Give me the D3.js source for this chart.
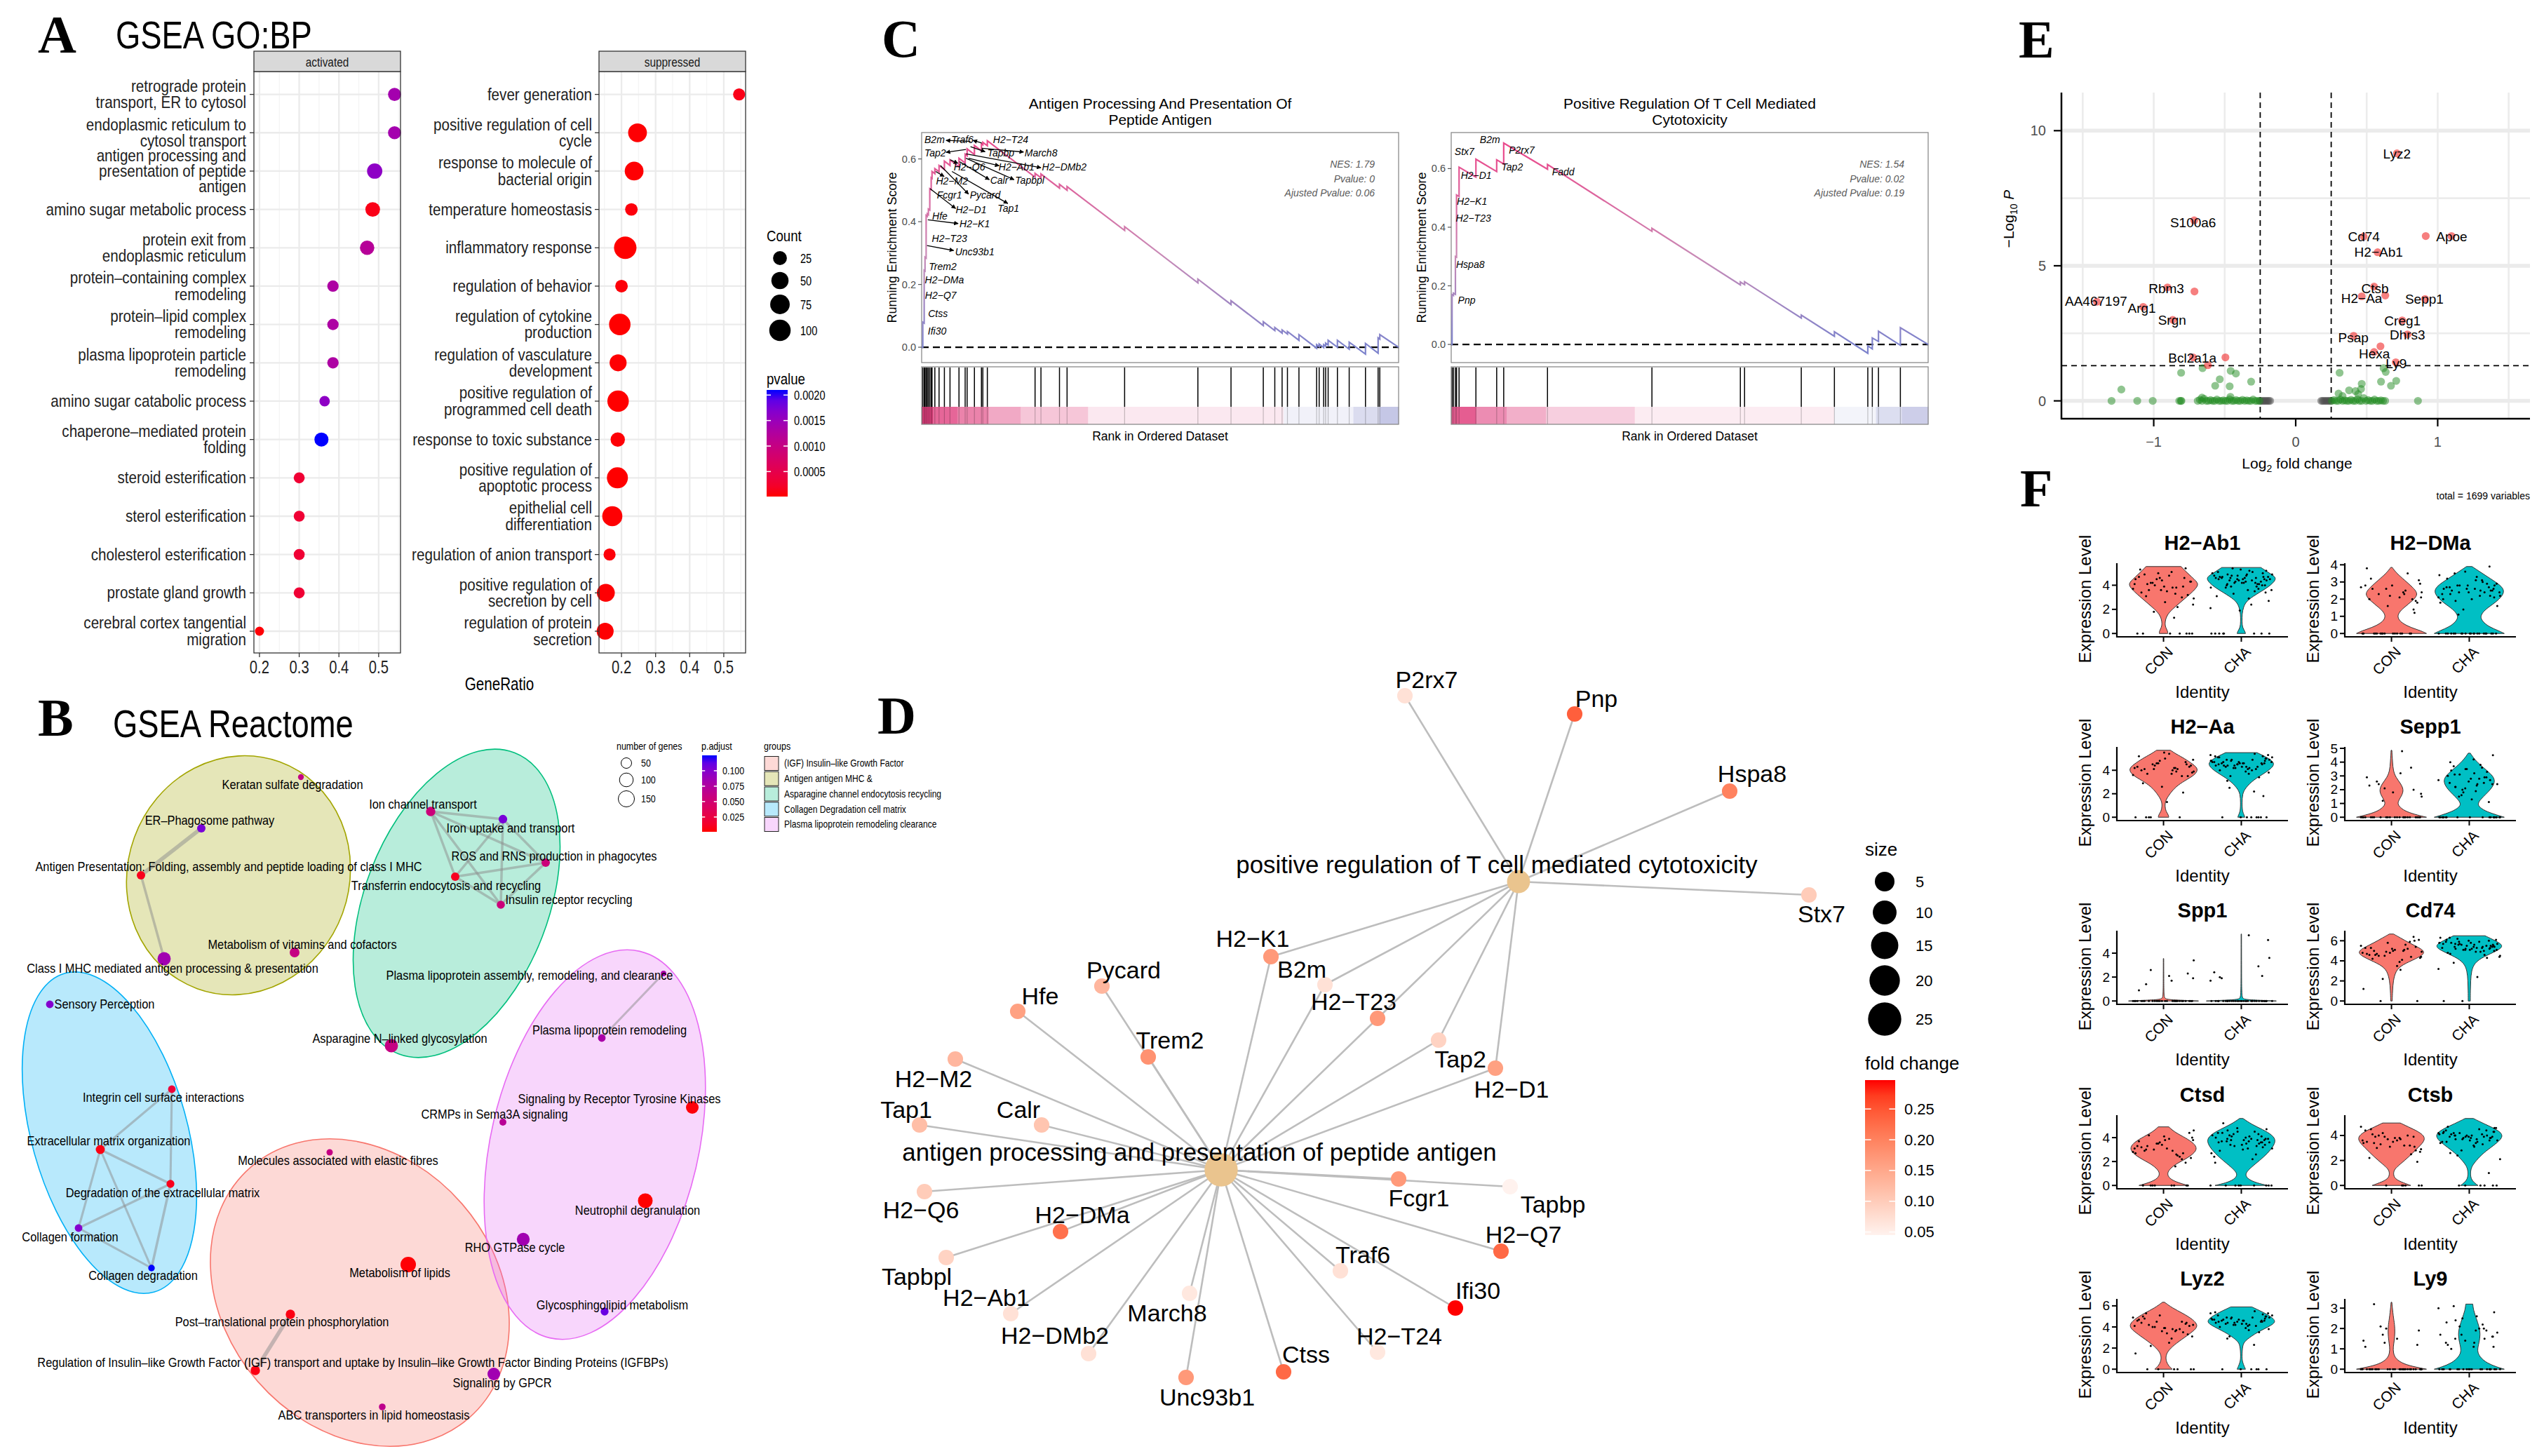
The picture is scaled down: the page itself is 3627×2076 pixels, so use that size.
<!DOCTYPE html>
<html><head><meta charset="utf-8">
<script src="https://cdn.jsdelivr.net/npm/d3@7/dist/d3.min.js"></script>
<style>body{margin:0;background:#fff}</style>
</head><body>
<svg id="fig" width="3627" height="2076"></svg>
<script>
// ================= DATA =================
// Panel A: GSEA GO:BP dot plot
const goActTerms=["retrograde protein\ntransport, ER to cytosol","endoplasmic reticulum to\ncytosol transport","antigen processing and\npresentation of peptide\nantigen","amino sugar metabolic process","protein exit from\nendoplasmic reticulum","protein\u2013containing complex\nremodeling","protein\u2013lipid complex\nremodeling","plasma lipoprotein particle\nremodeling","amino sugar catabolic process","chaperone\u2013mediated protein\nfolding","steroid esterification","sterol esterification","cholesterol esterification","prostate gland growth","cerebral cortex tangential\nmigration"];
const goActRatio=[0.54,0.54,0.49,0.485,0.471,0.385,0.385,0.385,0.364,0.356,0.30,0.30,0.30,0.30,0.20];
const goActCount=[21,21,34,30,28,15,15,15,13,26,14,14,14,14,12];
const goActP=[0.0014,0.0014,0.0016,0.0001,0.0012,0.0013,0.0013,0.0013,0.0016,0.0021,0.0003,0.0003,0.0003,0.0003,0.00003];
const goSupTerms=["fever generation","positive regulation of cell\ncycle","response to molecule of\nbacterial origin","temperature homeostasis","inflammatory response","regulation of behavior","regulation of cytokine\nproduction","regulation of vasculature\ndevelopment","positive regulation of\nprogrammed cell death","response to toxic substance","positive regulation of\napoptotic process","epithelial cell\ndifferentiation","regulation of anion transport","positive regulation of\nsecretion by cell","regulation of protein\nsecretion"];
const goSupRatio=[0.545,0.247,0.237,0.229,0.211,0.200,0.195,0.190,0.190,0.189,0.188,0.173,0.165,0.154,0.152];
const goSupCount=[17,66,66,19,115,19,100,48,100,28,94,82,17,57,48];
const goSupP=[0.0001,0.00002,0.00002,0.00005,0.00001,0.00004,0.00001,0.00002,0.00001,0.00003,0.00001,0.00002,0.00004,0.00002,0.00002];
const goTicks=[0.2,0.3,0.4,0.5];
const goCountLegend=[25,50,75,100];
const goPLegend=[0.0005,0.0010,0.0015,0.0020];

// Panel B: Reactome enrichment map (layout units)
const rxNames=["Keratan sulfate degradation","ER\u2013Phagosome pathway","Antigen Presentation: Folding, assembly and peptide loading of class I MHC","Metabolism of vitamins and cofactors","Class I MHC mediated antigen processing & presentation","Sensory Perception","Integrin cell surface interactions","Extracellular matrix organization","Degradation of the extracellular matrix","Collagen formation","Collagen degradation","Molecules associated with elastic fibres","Metabolism of lipids","Post\u2013translational protein phosphorylation","Regulation of Insulin\u2013like Growth Factor (IGF) transport and uptake by Insulin\u2013like Growth Factor Binding Proteins (IGFBPs)","ABC transporters in lipid homeostasis","Ion channel transport","Iron uptake and transport","ROS and RNS production in phagocytes","Transferrin endocytosis and recycling","Insulin receptor recycling","Plasma lipoprotein assembly, remodeling, and clearance","Asparagine N\u2013linked glycosylation","Plasma lipoprotein remodeling","Signaling by Receptor Tyrosine Kinases","CRMPs in Sema3A signaling","Neutrophil degranulation","RHO GTPase cycle","Glycosphingolipid metabolism","Signaling by GPCR"];
const rxGenes=[13,28,28,42,90,22,22,34,24,22,16,15,134,37,37,17,37,30,28,28,26,12,90,22,80,18,119,85,24,80];
const rxPadj=[0.06,0.105,0.008,0.06,0.085,0.1,0.02,0.005,0.008,0.1,0.125,0.06,0.002,0.005,0.005,0.065,0.055,0.105,0.055,0.01,0.055,0.08,0.06,0.08,0.003,0.07,0.001,0.085,0.11,0.085];
const rxNodeXY=[[419,118],[277,191],[191,258],[410,368],[224,377],[61,442],[235,563],[133,649],[233,698],[102,761],[206,818],[460,653],[572,813],[404,884],[354,964],[535,1016],[604,167],[707,178],[768,240],[639,260],[704,300],[936,398],[548,501],[848,490],[977,589],[707,610],[910,722],[736,777],[852,880],[694,969]];
const rxLabelXY=[[407,129],[289,180],[316,246],[421,357],[236,391],[139,442],[223,575],[145,637],[222,711],[90,774],[194,829],[472,665],[560,825],[392,895],[493,953],[523,1028],[593,157],[718,191],[780,231],[626,273],[801,293],[745,401],[560,491],[859,479],[873,577],[695,599],[899,736],[724,789],[863,871],[706,982]];
const rxEdges=[[1,2,1.0],[2,4,0.5],[16,17,0.5],[16,18,0.5],[16,19,0.5],[16,20,0.5],[17,18,0.5],[17,19,0.5],[17,20,0.5],[18,19,0.5],[18,20,0.5],[19,20,0.5],[6,7,0.4],[6,8,0.4],[7,8,0.5],[7,9,0.4],[7,10,0.4],[8,9,0.4],[8,10,0.5],[9,10,0.4],[13,14,1.0],[21,23,0.4]];
const rxGroups=["(IGF) Insulin\u2013like Growth Factor","Antigen antigen MHC &","Asparagine channel endocytosis recycling","Collagen Degradation cell matrix","Plasma lipoprotein remodeling clearance"];
const rxGroupEllipse=[[503,853,237,193,49],[330,258,172,158,-70],[641,298,230,131,-69],[146,625,236,111,74.4],[838,642,283,148,-76.9]];
const rxGeneLegend=[50,100,150];
const rxPLegend=[0.025,0.050,0.075,0.100];

// Panel C: GSEA running enrichment score
const gseaN=1699;
const gseaHitsA=[4,9,12,16,20,24,29,34,37,47,62,81,101,133,155,162,188,213,218,234,404,425,491,518,723,984,1102,1217,1258,1284,1303,1344,1407,1416,1432,1439,1448,1481,1523,1581,1626,1632];
const gseaCurveA=[[0,0],[4,0],[4,0.08],[9,0.077],[9,0.245],[12,0.243],[12,0.287],[16,0.284],[16,0.42],[20,0.417],[20,0.425],[24,0.422],[24,0.44],[29,0.437],[29,0.505],[34,0.502],[34,0.54],[37,0.538],[37,0.56],[47,0.553],[47,0.569],[62,0.559],[62,0.579],[81,0.566],[81,0.593],[101,0.579],[101,0.597],[133,0.575],[133,0.602],[155,0.587],[155,0.615],[162,0.61],[162,0.632],[188,0.614],[188,0.643],[213,0.626],[213,0.648],[218,0.645],[218,0.653],[234,0.642],[234,0.658],[404,0.542],[404,0.554],[425,0.54],[425,0.552],[491,0.507],[491,0.519],[518,0.5],[518,0.512],[723,0.372],[723,0.384],[984,0.205],[984,0.217],[1102,0.136],[1102,0.148],[1217,0.069],[1217,0.081],[1258,0.053],[1258,0.063],[1284,0.045],[1284,0.055],[1303,0.042],[1303,0.05],[1344,0.022],[1344,0.04],[1407,-0.003],[1407,0.008],[1416,0.002],[1416,0.01],[1432,-0.001],[1432,0.008],[1439,0.003],[1439,0.013],[1448,0.007],[1448,0.022],[1481,0.0],[1481,0.022],[1523,-0.006],[1523,0.016],[1581,-0.022],[1581,0.012],[1626,-0.019],[1626,0.03],[1632,0.026],[1632,0.04],[1699,0.0]];
const gseaBandA=[[0,40,1.0],[40,127,0.8],[127,239,0.65],[239,353,0.45],[353,593,0.3],[593,1289,0.12],[1289,1538,-0.1],[1538,1632,-0.25],[1632,1699,-0.4]];
const gseaGenesA=["B2m","Traf6","H2\u2212T24","Tap2","Tapbp","March8","H2\u2212Q6","H2\u2212Ab1","H2\u2212DMb2","H2\u2212M2","Calr","Tapbpl","Fcgr1","Pycard","H2\u2212D1","Tap1","Hfe","H2\u2212K1","H2\u2212T23","Unc93b1","Trem2","H2\u2212DMa","H2\u2212Q7","Ctss","Ifi30"];
const gseaGeneRankA=[46,145,317,48,282,425,170,338,508,108,276,385,99,226,176,309,65,189,99,189,75,81,68,58,55];
const gseaGeneEsA=[0.661,0.661,0.661,0.619,0.619,0.619,0.574,0.574,0.574,0.529,0.531,0.531,0.486,0.486,0.439,0.442,0.419,0.394,0.347,0.305,0.257,0.215,0.165,0.108,0.051];
const gseaArrowsA=[[174,0.656,87,0.659],[214,0.651,183,0.659],[174,0.639,226,0.623],[214,0.634,363,0.622],[158,0.63,87,0.621],[102,0.597,129,0.586],[167,0.602,276,0.578],[158,0.616,425,0.572],[135,0.591,241,0.534],[158,0.602,329,0.534],[50,0.56,80,0.544],[67,0.579,167,0.488],[108,0.56,307,0.458],[30,0.505,121,0.442],[22,0.406,130,0.394],[19,0.324,114,0.308]];
const gseaStatsA=["NES: 1.79","Pvalue: 0","Ajusted Pvalue: 0.06"];
const gseaHitsB=[3,8,15,19,28,88,162,187,343,715,1030,1045,1247,1365,1484,1500,1522,1600];
const gseaCurveB=[[0,0],[3,0],[3,0.17],[8,0.167],[8,0.175],[15,0.171],[15,0.3],[19,0.298],[19,0.51],[28,0.505],[28,0.605],[88,0.571],[88,0.632],[162,0.59],[162,0.63],[187,0.616],[187,0.687],[343,0.598],[343,0.614],[715,0.386],[715,0.396],[1030,0.203],[1030,0.213],[1045,0.204],[1045,0.214],[1247,0.09],[1247,0.1],[1365,0.028],[1365,0.043],[1484,-0.03],[1484,-0.005],[1500,-0.015],[1500,0.022],[1522,0.01],[1522,0.045],[1600,-0.003],[1600,0.057],[1699,0.0]];
const gseaBandB=[[0,89,0.85],[89,198,0.6],[198,338,0.42],[338,654,0.25],[654,1364,0.1],[1364,1513,-0.08],[1513,1606,-0.24],[1606,1699,-0.35]];
const gseaGenesB=["B2m","Stx7","P2rx7","Tap2","Fadd","H2\u2212D1","H2\u2212K1","H2\u2212T23","Hspa8","Pnp"];
const gseaGeneRankB=[138,47,251,217,399,89,74,79,68,55];
const gseaGeneEsB=[0.698,0.659,0.662,0.605,0.588,0.576,0.489,0.43,0.273,0.152];
const gseaStatsB=["NES: 1.54","Pvalue: 0.02","Ajusted Pvalue: 0.19"];
const gseaYTicks=[0.0,0.2,0.4,0.6];

// Panel D: gene-concept network (layout units)
const cnetCats=["positive regulation of T cell mediated cytotoxicity","antigen processing and presentation of peptide antigen"];
const cnetCatSize=[9,25];
const cnetCatXY=[[925,327],[501,738]];
const cnetCatLabelXY=[[894,302],[470,712]];
const cnetGenes=["P2rx7","Pnp","Hspa8","Stx7","H2\u2212K1","B2m","H2\u2212T23","Tap2","H2\u2212D1","Pycard","Hfe","Trem2","H2\u2212M2","Tap1","Calr","H2\u2212Q6","H2\u2212DMa","Tapbpl","H2\u2212Ab1","H2\u2212DMb2","March8","Unc93b1","Ctss","H2\u2212T24","Ifi30","Traf6","H2\u2212Q7","Fcgr1","Tapbp"];
const cnetFC=[0.07,0.24,0.2,0.1,0.17,0.07,0.17,0.09,0.16,0.13,0.16,0.18,0.13,0.12,0.11,0.1,0.22,0.09,0.07,0.07,0.06,0.17,0.23,0.06,0.297,0.07,0.23,0.17,0.045];
const cnetGeneXY=[[763,62],[1005,88],[1226,198],[1339,346],[572,434],[649,474],[724,522],[811,553],[892,593],[331,476],[211,512],[397,577],[122,580],[71,674],[245,674],[78,769],[272,826],[109,863],[201,943],[312,1000],[456,914],[451,1034],[590,1026],[724,998],[835,935],[671,882],[900,854],[754,751],[913,762]];
const cnetGeneLabelXY=[[794,39],[1036,66],[1258,173],[1357,373],[546,408],[616,452],[690,498],[842,580],[915,623],[362,453],[243,490],[428,553],[91,608],[52,652],[212,652],[73,795],[303,802],[67,890],[166,920],[264,974],[424,942],[481,1062],[622,1001],[755,975],[867,910],[703,859],[932,830],[783,778],[974,787]];
const cnetLinks={0:[0,1,2,3,4,5,6,7,8],1:[4,5,6,7,8,9,10,11,12,13,14,15,16,17,18,19,20,21,22,23,24,25,26,27,28]};
const cnetSizeLegend=[5,10,15,20,25];
const cnetFCLegend=[0.05,0.10,0.15,0.20,0.25];

// Panel E: volcano
const volSigX=[-1.401,-1.074,-0.903,-0.713,-0.866,-0.715,-0.723,-0.619,-0.495,0.713,0.478,0.916,1.097,0.577,0.552,0.465,0.631,0.911,0.75,0.787,0.408,0.597,0.552,0.705];
const volSigY=[3.67,3.48,4.2,4.05,3.0,6.68,1.61,1.32,1.61,9.16,6.08,6.1,6.1,5.5,4.23,3.87,3.9,3.77,2.98,2.46,2.41,2.02,1.81,1.43];
const volGreenX=[-1.297,-1.228,-1.116,-1.007,-0.809,-0.807,-0.656,-0.567,-0.535,-0.465,-0.458,-0.421,-0.314,-0.82,-0.805,-0.69,-0.675,-0.66,-0.645,-0.63,-0.615,-0.6,-0.585,-0.57,-0.555,-0.54,-0.525,-0.51,-0.495,-0.48,-0.465,-0.45,-0.435,-0.42,-0.405,-0.39,-0.375,-0.36,-0.345,-0.33,-0.315,-0.3,-0.285,-0.27,-0.255,-0.66,-0.46,0.309,0.302,0.376,0.421,0.465,0.46,0.601,0.619,0.634,0.671,0.708,0.861,0.255,0.27,0.285,0.3,0.315,0.33,0.345,0.36,0.375,0.39,0.405,0.42,0.435,0.45,0.465,0.48,0.495,0.51,0.525,0.54,0.555,0.57,0.585,0.6,0.615,0.63,0.44,0.33];
const volGreenY=[0,0.42,0,0,0,1.04,1.21,0.56,0.8,0.54,1.11,1.01,0.71,0,0,0,0.04,0,0.08,0,0,0.03,0,0,0.05,0,0,0.02,0,0,0.06,0,0,0.03,0,0,0.04,0,0.02,0,0,0.05,0,0,0,0.12,0.15,1.04,0.27,0.39,0.36,0.63,0.44,0.71,1.21,1.07,0.56,0.74,0,0,0.03,0,0,0.05,0,0.02,0,0,0.04,0,0,0.06,0,0,0.1,0,0.03,0,0,0.05,0,0,0.02,0,0,0.25,0.18];
const volGrayX=[-0.25,-0.24,-0.23,-0.22,-0.21,-0.2,-0.19,-0.18,0.18,0.19,0.2,0.21,0.22,0.23,0.24,0.248];
const volGrayY=[0,0,0,0,0,0,0,0,0,0,0,0,0,0,0,0];
const volLabels=["Lyz2","S100a6","Cd74","Apoe","H2\u2212Ab1","Rbm3","Ctsb","H2\u2212Aa","Sepp1","AA467197","Arg1","Srgn","Creg1","Dhrs3","Psap","Hexa","Bcl2a1a","Ly9"];
const volLabelX=[0.713,-0.723,0.48,1.099,0.584,-0.911,0.559,0.465,0.906,-1.406,-1.084,-0.871,0.752,0.787,0.406,0.554,-0.728,0.708];
const volLabelY=[9.13,6.6,6.08,6.08,5.5,4.15,4.15,3.78,3.76,3.68,3.42,2.98,2.95,2.43,2.35,1.73,1.58,1.37];
const volXTicks=[-1,0,1], volYTicks=[0,5,10];
const volFC=0.25, volP=1.301;

// Panel F: violin plots
const vlnGenes=["H2\u2212Ab1","H2\u2212DMa","H2\u2212Aa","Sepp1","Spp1","Cd74","Ctsd","Ctsb","Lyz2","Ly9"];
const vlnGroups=["CON","CHA"];
const vlnTicks=[[0,2,4],[0,1,2,3,4],[0,2,4],[0,1,2,3,4,5],[0,2,4],[0,2,4,6],[0,2,4],[0,2,4],[0,2,4,6],[0,1,2,3]];
const vlnConShape=[
 [[0,0.12],[0.2,0.12],[0.5,0.06],[0.8,0.04],[1.2,0.06],[1.6,0.12],[2.0,0.25],[2.5,0.45],[3.0,0.65],[3.5,0.85],[4.0,1.0],[4.3,0.95],[4.7,0.8],[5.1,0.65],[5.55,0.5]],
 [[0,1.0],[0.15,0.85],[0.35,0.55],[0.6,0.3],[0.9,0.17],[1.2,0.2],[1.5,0.35],[1.9,0.6],[2.3,0.78],[2.7,0.6],[3.1,0.38],[3.5,0.15],[3.85,0.02]],
 [[0,0.15],[0.2,0.14],[0.5,0.07],[0.9,0.04],[1.4,0.05],[2.0,0.18],[2.6,0.35],[3.1,0.6],[3.6,0.9],[4.1,1.0],[4.5,0.85],[5.0,0.6],[5.4,0.35],[5.7,0.2]],
 [[0,1.0],[0.15,0.75],[0.4,0.42],[0.7,0.25],[1.0,0.16],[1.4,0.25],[1.9,0.36],[2.4,0.28],[2.9,0.12],[3.4,0.05],[4.0,0.03],[4.5,0.02],[4.86,0.01]],
 [[0,1.0],[0.05,0.6],[0.12,0.06],[0.3,0.012],[1.5,0.008],[3.55,0.006]],
 [[0,0.02],[1,0.03],[2,0.05],[3,0.12],[3.6,0.3],[4.2,0.7],[4.8,1.0],[5.3,0.8],[5.8,0.5],[6.3,0.25],[6.67,0.06]],
 [[0,0.7],[0.2,0.45],[0.5,0.2],[0.9,0.1],[1.3,0.15],[1.8,0.35],[2.3,0.7],[3.0,1.0],[3.6,0.85],[4.1,0.55],[4.5,0.3],[4.9,0.15]],
 [[0,0.55],[0.2,0.35],[0.5,0.1],[0.9,0.05],[1.3,0.08],[1.7,0.25],[2.3,0.5],[3.0,0.75],[3.7,1.0],[4.2,0.85],[4.6,0.55],[5.0,0.25]],
 [[0,0.25],[0.3,0.15],[0.7,0.08],[1.2,0.06],[1.7,0.12],[2.3,0.3],[3.0,0.6],[3.6,0.85],[4.1,1.0],[4.7,0.85],[5.3,0.55],[5.8,0.25],[6.34,0.03]],
 [[0,1.0],[0.1,0.7],[0.25,0.35],[0.5,0.12],[0.8,0.05],[1.1,0.05],[1.4,0.08],[1.8,0.1],[2.2,0.09],[2.6,0.05],[3.29,0.01]]
];
const vlnChaShape=[
 [[0,0.12],[0.2,0.1],[0.5,0.03],[1.0,0.02],[1.6,0.02],[2.2,0.06],[2.7,0.15],[3.2,0.4],[3.8,0.75],[4.3,0.95],[4.66,1.0],[5.0,0.8],[5.47,0.56]],
 [[0,1.0],[0.15,0.85],[0.4,0.55],[0.7,0.38],[1.0,0.3],[1.4,0.45],[1.8,0.75],[2.2,0.95],[2.5,1.0],[2.8,0.9],[3.2,0.6],[3.6,0.3],[3.9,0.08]],
 [[0,0.1],[0.2,0.08],[0.5,0.03],[1.2,0.02],[2.0,0.03],[2.5,0.12],[3.2,0.35],[3.8,0.7],[4.5,1.0],[5.0,0.8],[5.5,0.45]],
 [[0,1.0],[0.15,0.8],[0.4,0.5],[0.7,0.3],[1.0,0.22],[1.5,0.4],[2.1,0.65],[2.7,0.76],[3.2,0.6],[3.7,0.35],[4.2,0.15],[4.65,0.03]],
 [[0,1.0],[0.05,0.6],[0.12,0.06],[0.3,0.012],[2.0,0.008],[5.6,0.006]],
 [[0,0.03],[1,0.03],[2,0.04],[3,0.06],[3.8,0.15],[4.4,0.4],[5.0,0.8],[5.5,1.0],[6.0,0.75],[6.5,0.45]],
 [[0,0.75],[0.2,0.45],[0.5,0.2],[0.9,0.1],[1.3,0.2],[1.8,0.4],[2.4,0.65],[3.0,0.85],[3.7,1.0],[4.2,0.9],[4.7,0.6],[5.1,0.3],[5.6,0.05]],
 [[0,0.25],[0.2,0.15],[0.5,0.05],[1.0,0.03],[1.5,0.06],[2.0,0.2],[2.6,0.4],[3.2,0.7],[3.9,1.0],[4.4,0.85],[4.9,0.45],[5.36,0.12]],
 [[0,0.12],[0.3,0.08],[0.8,0.02],[1.5,0.02],[2.4,0.04],[2.8,0.15],[3.5,0.45],[4.2,0.9],[4.6,1.0],[5.2,0.75],[5.9,0.3]],
 [[0,1.0],[0.1,0.8],[0.3,0.5],[0.6,0.3],[0.9,0.22],[1.3,0.28],[1.7,0.32],[2.1,0.28],[2.5,0.2],[2.9,0.12],[3.2,0.1]]
];
const vlnConPts=[
 [4.1,3.8,4.5,3.2,4.9,2.6,4.3,3.6,5.1,0,3.9,4.6,2.9,4.2,0,3.4,4.8,3.7,1.3,4.4,5.4,3.1,0,4.0,2.2,4.7,3.5,0,4.2,3.0,5.0,3.8,0,2.4,4.5,3.3,4.1,0,3.9,1.8,4.6,5.3,0,3.6,4.3],
 [0,2.3,0,1.9,2.6,0,3.1,0,2.1,2.8,0,1.6,2.4,0,3.5,2.0,0,2.7,0,2.2,1.4,0,2.9,0,2.5,3.8,0,1.8,2.3,0,2.6,0,3.2,2.1,0,2.4,0,1.2,2.8,0,2.0],
 [4.2,3.9,4.6,3.5,4.1,5.0,4.4,0,3.7,4.3,2.1,4.8,3.9,4.5,0,4.0,5.4,3.6,4.2,2.6,4.7,0,3.8,4.4,4.1,5.2,1.3,4.3,0,3.5,4.6,4.0,2.9,4.9,0,4.2,3.7,4.5,5.5,4.1],
 [0,0,2.1,0,0,1.8,0,2.6,0,0,3.6,0,1.5,0,0,2.3,0,0,4.8,0,2.0,0,0,1.2,0,2.9,0,0,2.4,0,0,3.2,0,1.7,0,0],
 [0,0,0,2.3,0,0,0,0,1.7,0,0,0,3.4,0,0,0,2.1,0,0,0,0,1.4,0,0,0,0.9,0,0,2.6,0,0,0,0,1.9,0,0],
 [4.8,5.1,4.5,5.4,4.2,5.0,6.1,4.7,3.9,5.3,4.4,5.8,4.9,0,5.2,4.6,3.5,5.5,4.1,4.8,6.4,5.0,4.3,2.2,5.6,4.7,5.1,0,4.5,5.9,4.9,3.1,5.3,4.4,1.2,5.0,4.6,6.0,5.2],
 [3.1,2.6,3.5,0,2.9,3.8,2.3,4.2,0,3.3,2.7,3.6,4.6,0,2.4,3.2,3.9,2.8,0,3.4,1.9,3.0,4.0,0,2.5,3.7,3.1,4.4,0,2.2,3.5,2.9,0,3.8,2.7,1.6,3.3,0,4.1,3.0],
 [3.6,3.2,3.9,2.8,4.1,3.5,0,3.0,3.8,4.4,2.5,3.7,0,3.3,4.0,2.2,3.6,4.7,0,3.1,3.9,3.4,2.7,4.2,0,3.5,3.8,1.9,4.0,3.2,0,3.7,4.5,2.9,3.4,0,3.9,3.1],
 [4.1,3.7,4.5,3.3,4.8,3.9,0,4.2,2.9,4.6,3.5,5.1,0,4.0,3.8,4.4,2.5,4.9,0,3.6,4.3,5.3,3.1,4.0,0,4.7,3.4,4.1,2.2,4.5,0,3.8,5.0,4.2,1.5,3.6,0,4.4,3.9],
 [0,0,1.3,0,0,0,1.9,0,0,1.1,0,0,0,2.1,0,0,1.5,0,0,0,0,3.2,0,1.7,0,0,0,1.2,0,0,2.0,0,0,0,1.4,0,0]
];
const vlnChaPts=[
 [4.5,4.2,4.8,4.0,5.1,3.6,4.4,4.7,4.9,3.9,0,4.3,4.6,5.2,3.3,4.1,4.8,2.4,4.5,5.0,3.8,0,4.4,4.2,4.7,3.5,5.3,4.0,4.6,2.9,0,4.9,4.3,3.7,4.5,5.1,4.1,0,2.1,4.8,4.4,3.9,4.6,5.0,0,4.2,3.4,4.7,4.5,2.7,4.0,5.2,0,4.3,4.8,3.6,4.6,4.1,0,4.9,3.8,4.4,1.9,4.7,0,4.5,5.4,4.2,3.1,4.6],
 [2.5,0,2.8,2.2,0,3.1,2.6,0,1.9,2.4,3.4,0,2.7,2.1,0,2.9,2.3,0,3.6,2.5,0,1.6,2.8,2.0,0,3.0,2.4,0,2.6,3.3,0,2.2,1.4,0,2.7,2.5,0,3.9,2.1,0,2.8,2.4,0,1.8,3.1,0,2.6,2.3,0,2.9,3.5,0,2.0,2.7,0,2.4,1.1,0,3.2,2.6,0,2.2,2.8,0,2.5],
 [4.6,4.3,4.9,4.5,5.1,4.1,4.7,5.3,4.4,0,4.8,3.9,4.6,5.0,4.2,3.4,4.7,0,4.5,5.2,4.3,4.9,2.5,4.6,4.0,5.4,0,4.8,4.4,3.7,4.7,5.1,4.2,0,4.5,4.9,3.1,4.6,5.3,4.3,0,4.8,4.1,4.7,2.2,4.4,5.0,0,4.6,3.8,4.9,4.2,5.2,0,4.5,4.7,3.5,4.3,5.1,0,4.8,4.0,4.6,1.8,4.4],
 [2.4,0,3.1,2.7,0,1.9,3.5,0,2.2,2.9,0,4.2,2.5,0,1.6,3.3,0,2.8,2.1,0,3.7,2.4,0,1.3,3.0,0,2.6,4.5,0,2.3,3.4,0,1.8,2.9,0,3.8,2.2,0,2.7,3.2,0,1.5,2.5,0,3.6,2.0,0,4.0,2.8,0,3.1,2.4,0,1.1,3.5,0],
 [0,0,0,2.1,0,0,0,5.1,0,0,0,0,1.9,0,0,0,2.4,0,0,0,0,3.6,0,0,2.0,0,0,0,0,5.5,0,0,0,2.9,0,0,0,0,1.7,0,0],
 [5.4,5.1,5.7,5.3,5.9,4.9,5.5,6.1,5.2,4.6,5.8,5.4,6.3,5.0,5.6,4.3,5.3,5.9,5.1,5.5,3.8,5.7,6.2,5.2,4.8,5.4,6.0,5.6,0,5.3,5.8,4.5,5.1,5.5,6.1,4.9,5.7,5.2,3.2,5.6,5.4,5.9,5.0,6.3,5.3,0,5.5,4.7,5.8,5.1,5.4,2.4,5.7,6.0,5.2,4.4,5.6],
 [3.8,3.4,4.1,3.6,4.4,3.1,0,3.9,4.6,3.3,2.7,4.0,3.7,0,4.3,3.5,2.4,3.9,4.8,3.2,0,3.6,4.2,3.8,2.9,4.5,0,3.4,4.0,3.7,5.2,3.1,0,4.3,3.6,2.2,3.9,4.1,0,3.5,4.7,3.8,2.6,4.2,0,3.3,3.9,4.4,3.0,0,3.7,4.1,1.9,3.6,4.5,0,3.4,3.8],
 [3.9,3.6,4.2,3.8,4.4,3.4,4.0,4.6,3.7,0,4.1,3.2,3.9,4.3,2.8,4.0,3.5,4.5,0,3.8,4.2,3.6,2.4,4.0,4.7,3.3,3.9,0,4.3,3.7,4.1,2.1,3.8,4.4,3.5,0,4.0,3.6,4.2,3.1,4.6,0,3.9,3.4,4.1,3.7,4.3,2.6,3.8,0,4.0,3.5,4.2,1.0,3.9],
 [4.6,4.3,4.9,4.5,5.1,4.1,4.7,5.3,4.4,0,4.8,3.9,4.6,5.0,4.2,3.5,4.7,0,4.5,5.2,4.3,4.9,3.1,4.6,4.0,5.5,0,4.8,4.4,3.7,4.7,5.1,4.2,0,4.5,4.9,2.9,4.6,5.3,4.3,0,4.8,4.1,4.7,2.3,4.4,5.0,0,4.6,3.8,4.9,4.2,5.4,4.5],
 [1.6,0,2.1,0,1.3,1.9,0,0,2.4,1.5,0,1.1,0,2.8,1.7,0,0,2.0,1.4,0,3.1,1.8,0,0,1.2,2.2,0,1.6,0,2.6,1.0,0,0,1.9,2.3,0,1.5,0,3.0,1.3,0,0,2.0,1.7,0,2.5,1.1,0]
];
const jitterPattern=[-0.93,0.41,-0.22,0.78,-0.61,0.05,0.88,-0.47,0.26,-0.84,0.63,-0.12,0.97,-0.35,0.52,-0.71,0.18,-0.98,0.34,-0.05,0.71,-0.56,0.92,-0.28,0.45,-0.79,0.11,0.83,-0.41,0.59,-0.17,0.29,-0.66,0.95,-0.9,0.38,-0.52,0.74,0.02,-0.31,0.67,-0.75,0.21,-0.08,0.86,-0.44,0.49,-0.96,0.14,-0.63,0.8,-0.25,0.57,-0.87,0.32,-0.13,0.69,-0.5,0.9,-0.38,0.08,-0.69,0.43,-0.02,0.76,-0.82,0.24,-0.58,0.99,-0.19,0.55,-0.73,0.36,-0.45,0.65,-0.99,0.16,0.81,-0.33,0.47];

// ================= DRAWING =================
const W=3627,H=2076;
const SANS="'Liberation Sans', Arial, Helvetica, sans-serif";
const SERIF="'Liberation Serif','Times New Roman',serif";
const svg=d3.select("#fig");
svg.append("rect").attr("width",W).attr("height",H).attr("fill","#fff");
const defs=svg.append("defs");

function T(g,x,y,s,o={}){
  let tr=`translate(${x},${y})`;
  if(o.rot) tr+=` rotate(${o.rot})`;
  if(o.sx) tr+=` scale(${o.sx},1)`;
  const t=g.append("text").attr("transform",tr)
    .attr("font-family",o.family||SANS).attr("font-size",o.size||14)
    .attr("text-anchor",o.anchor||"start")
    .attr("dominant-baseline",o.base||"central")
    .attr("fill",o.fill||"#000");
  if(o.weight) t.attr("font-weight",o.weight);
  if(o.italic) t.attr("font-style","italic");
  t.text(s);
  return t;
}
function line(g,x1,y1,x2,y2,stroke,w,extra){
  const l=g.append("line").attr("x1",x1).attr("y1",y1).attr("x2",x2).attr("y2",y2).attr("stroke",stroke).attr("stroke-width",w);
  if(extra) extra(l);
  return l;
}
function vGrad(id,scale,dom){
  const gr=defs.append("linearGradient").attr("id",id).attr("x1",0).attr("x2",0).attr("y1",1).attr("y2",0);
  d3.range(0,11).forEach(i=>{const t=i/10;gr.append("stop").attr("offset",t).attr("stop-color",scale(dom[0]+t*(dom[1]-dom[0])));});
}
function colorbar(g,x,y0,y1,w,id,scale,dom,ticks,fmt,labX,fs,sx){
  vGrad(id,scale,dom);
  g.append("rect").attr("x",x).attr("y",y0).attr("width",w).attr("height",y1-y0).attr("fill",`url(#${id})`);
  const ys=d3.scaleLinear().domain(dom).range([y1,y0]);
  ticks.forEach(v=>{
    const yy=ys(v);
    line(g,x,yy,x+w*0.2,yy,"#fff",1.5);
    line(g,x+w*0.8,yy,x+w,yy,"#fff",1.5);
    T(g,labX,yy,fmt(v),{size:fs,sx:sx});
  });
}

// panel letters
[["A",54,75],["B",54,1049],["C",1257,81],["D",1251,1046],["E",2878,82],["F",2880,722]].forEach(d=>{
  T(svg,d[1],d[2],d[0],{size:76,family:SERIF,weight:"bold",base:"alphabetic"});
});

// ---------- Panel A ----------
(function(){
  const g=svg.append("g");
  const SX=0.81;
  T(g,165,69,"GSEA GO:BP",{size:56,sx:SX,base:"alphabetic"});
  const allC=goActCount.concat(goSupCount), allP=goActP.concat(goSupP);
  const cMin=d3.min(allC), cMax=d3.max(allC);
  const pMin=d3.min(allP), pMax=d3.max(allP);
  const rLin=d3.scaleLinear().domain([0,1]).range([6.5,16]);
  const rA=c=>rLin(Math.sqrt(Math.max(0,(c-cMin)/(cMax-cMin))));
  const colA=d3.scaleLinear().domain([pMin,pMax]).range(["#ff0000","#0000ff"]).interpolate(d3.interpolateLab);
  const rowY=d3.scalePoint().domain(d3.range(15)).range([134.6,900]);
  function facet(x0,x1,dom,terms,ratio,cnt,pv,strip,labelX){
    const xs=d3.scaleLinear().domain(dom).range([x0,x1]);
    g.append("rect").attr("x",x0).attr("y",102).attr("width",x1-x0).attr("height",829).attr("fill","#fff");
    [0.15,0.25,0.35,0.45,0.55].filter(v=>v>dom[0]&&v<dom[1]).forEach(v=>line(g,xs(v),102,xs(v),931,"#f4f4f4",1.3));
    goTicks.forEach(v=>line(g,xs(v),102,xs(v),931,"#ebebeb",2.3));
    d3.range(15).forEach(i=>line(g,x0,rowY(i),x1,rowY(i),"#ebebeb",2.3));
    const idx=d3.range(15);
    g.selectAll(null).data(idx).enter().append("circle")
      .attr("cx",i=>xs(ratio[i])).attr("cy",i=>rowY(i)).attr("r",i=>rA(cnt[i])).attr("fill",i=>colA(pv[i]));
    g.append("rect").attr("x",x0).attr("y",102).attr("width",x1-x0).attr("height",829).attr("fill","none").attr("stroke","#333").attr("stroke-width",1.3);
    g.append("rect").attr("x",x0).attr("y",73).attr("width",x1-x0).attr("height",29).attr("fill","#d9d9d9").attr("stroke","#333").attr("stroke-width",1.3);
    T(g,(x0+x1)/2,88,strip,{size:19,sx:SX,anchor:"middle",fill:"#1a1a1a"});
    goTicks.forEach(v=>{line(g,xs(v),931,xs(v),937,"#333",1.3);T(g,xs(v),951,String(v),{size:25,sx:SX,anchor:"middle",fill:"#222"});});
    idx.forEach(i=>{
      line(g,x0-6,rowY(i),x0,rowY(i),"#333",1.3);
      const ls=terms[i].split("\n");
      const sp=ls.length>2?21.8:23.2;
      ls.forEach((s,k)=>T(g,labelX,rowY(i)+(k-(ls.length-1)/2)*sp,s,{size:24,sx:0.86,anchor:"end",fill:"#222"}));
    });
  }
  facet(362,571,[0.186,0.555],goActTerms,goActRatio,goActCount,goActP,"activated",351);
  facet(854,1063,[0.134,0.564],goSupTerms,goSupRatio,goSupCount,goSupP,"suppressed",844);
  T(g,712,975,"GeneRatio",{size:25.5,sx:SX,anchor:"middle"});
  // legends
  T(g,1093,336,"Count",{size:23,sx:SX});
  const ly=[368,400,434,471];
  goCountLegend.forEach((c,i)=>{
    g.append("circle").attr("cx",1112).attr("cy",ly[i]).attr("r",rA(c)).attr("fill","#000");
    T(g,1141,ly[i],String(c),{size:18,sx:SX});
  });
  T(g,1093,540,"pvalue",{size:23,sx:SX});
  colorbar(g,1093,556,708,30,"gA",colA,[pMin,pMax],goPLegend,v=>v.toFixed(4),1132,18,SX);
})();

// ---------- Panel B ----------
(function(){
  const g=svg.append("g");
  const SX=0.81;
  T(g,161,1051,"GSEA Reactome",{size:56,sx:SX,base:"alphabetic"});
  const bx=d3.scaleLinear().domain([0,1050]).range([10,1060]);
  const by=d3.scaleLinear().domain([0,1080]).range([990,2070]);
  const hues=["#F8766D","#A3A500","#00BF7D","#00B0F6","#E76BF3"];
  rxGroupEllipse.forEach((e,i)=>{
    g.append("ellipse").attr("cx",bx(e[0])).attr("cy",by(e[1])).attr("rx",e[2]).attr("ry",e[3])
      .attr("transform",`rotate(${e[4]},${bx(e[0])},${by(e[1])})`)
      .attr("fill",hues[i]).attr("fill-opacity",0.28).attr("stroke",hues[i]).attr("stroke-width",1.6);
  });
  const gMin=10,gMax=180;
  const rLin=d3.scaleLinear().domain([0,1]).range([2.9,12.4]);
  const rB=n=>rLin(Math.sqrt(Math.max(0,(n-gMin)/(gMax-gMin))));
  const pMin=d3.min(rxPadj), pMax=d3.max(rxPadj);
  const colB=d3.scaleLinear().domain([pMin,pMax]).range(["#ff0000","#0000ff"]).interpolate(d3.interpolateLab);
  rxEdges.forEach(e=>{
    const a=rxNodeXY[e[0]], b=rxNodeXY[e[1]];
    line(g,bx(a[0]),by(a[1]),bx(b[0]),by(b[1]),"#8c8c8c",1.5+4*e[2],l=>l.attr("stroke-opacity",0.5));
  });
  rxNames.forEach((n,i)=>{
    g.append("circle").attr("cx",bx(rxNodeXY[i][0])).attr("cy",by(rxNodeXY[i][1])).attr("r",rB(rxGenes[i])).attr("fill",colB(rxPadj[i]));
  });
  rxNames.forEach((n,i)=>{
    T(g,bx(rxLabelXY[i][0]),by(rxLabelXY[i][1]),n,{size:18,sx:0.91,anchor:"middle"});
  });
  // legends
  T(g,879,1064,"number of genes",{size:14.5,sx:0.86});
  const ly=[1088,1112,1139];
  rxGeneLegend.forEach((n,i)=>{
    g.append("circle").attr("cx",893).attr("cy",ly[i]).attr("r",rB(n)).attr("fill","#fff").attr("stroke","#000").attr("stroke-width",1);
    T(g,914,ly[i],String(n),{size:14.5,sx:0.86});
  });
  T(g,1000,1064,"p.adjust",{size:14.5,sx:0.86});
  colorbar(g,1001,1077,1186,21,"gB",colB,[pMin,pMax],rxPLegend,v=>v.toFixed(3),1030,14.5,0.86);
  T(g,1089,1064,"groups",{size:14.5,sx:0.86});
  rxGroups.forEach((s,i)=>{
    const yy=1088.5+i*21.75;
    g.append("rect").attr("x",1090).attr("y",yy-10).attr("width",20).attr("height",20).attr("fill",hues[i]).attr("fill-opacity",0.28).attr("stroke","#222").attr("stroke-width",1);
    T(g,1118,yy,s,{size:14,sx:0.86});
  });
})();

// ---------- Panel C ----------
function gseaPanel(o){
  const g=svg.append("g");
  const xs=d3.scaleLinear().domain([0,gseaN]).range([o.x0,o.x1]);
  const ys=d3.scaleLinear().domain(o.yDom).range([517,189]);
  const cx=(o.x0+o.x1)/2;
  o.title.forEach((t,i)=>T(g,cx,147+23*i,t,{size:21,anchor:"middle"}));
  g.append("rect").attr("x",o.x0).attr("y",189).attr("width",o.x1-o.x0).attr("height",328).attr("fill","#fff").attr("stroke","#8a8a8a").attr("stroke-width",1.3);
  line(g,o.x0,ys(0),o.x1,ys(0),"#000",2.2,l=>l.attr("stroke-dasharray","10,6"));
  const gr=defs.append("linearGradient").attr("id",o.id).attr("gradientUnits","userSpaceOnUse")
    .attr("x1",0).attr("x2",0).attr("y1",ys(0.66)).attr("y2",ys(0));
  gr.append("stop").attr("offset",0).attr("stop-color","#ea4a8c");
  gr.append("stop").attr("offset",0.55).attr("stop-color","#c98ab6");
  gr.append("stop").attr("offset",1).attr("stop-color","#7d83cc");
  g.append("path").attr("d",d3.line().x(d=>xs(d[0])).y(d=>ys(d[1]))(o.curve))
    .attr("fill","none").attr("stroke",`url(#${o.id})`).attr("stroke-width",2.2);
  gseaYTicks.forEach(v=>{
    line(g,o.x0-5,ys(v),o.x0,ys(v),"#555",1.2);
    T(g,o.x0-8,ys(v),v.toFixed(1),{size:14.5,anchor:"end",fill:"#4d4d4d"});
  });
  T(g,o.x0-42,353,"Running Enrichment Score",{size:18,anchor:"middle",rot:-90});
  o.stats.forEach((s,i)=>T(g,o.statX,234+20.5*i,s,{size:14,anchor:"end",italic:true,fill:"#5a5a5a"}));
  if(o.arrows){
    o.arrows.forEach(a=>line(g,xs(a[0]),ys(a[1]),xs(a[2]),ys(a[3]),"#000",1.3,l=>l.attr("marker-end","url(#arr)")));
  }
  o.genes.forEach((s,i)=>T(g,xs(o.gRank[i]),ys(o.gEs[i]),s,{size:14,anchor:"middle",italic:true}));
  // rug
  g.append("rect").attr("x",o.x0).attr("y",523).attr("width",o.x1-o.x0).attr("height",82).attr("fill","#fff");
  const pos=d3.interpolateRgb("#ffffff","#e0407e"), neg=d3.interpolateRgb("#ffffff","#6f74c0");
  o.band.forEach(b=>{
    g.append("rect").attr("x",xs(b[0])).attr("y",580).attr("width",xs(b[1])-xs(b[0])+0.5).attr("height",25)
      .attr("fill",b[2]>=0?pos(b[2]):neg(-b[2]));
  });
  o.hits.forEach(h=>{
    line(g,xs(h),524,xs(h),580,"#000",1.5);
    line(g,xs(h),580,xs(h),605,"#000",1.2,l=>l.attr("stroke-opacity",0.22));
  });
  g.append("rect").attr("x",o.x0).attr("y",523).attr("width",o.x1-o.x0).attr("height",82).attr("fill","none").attr("stroke","#8a8a8a").attr("stroke-width",1.3);
  T(g,cx,622,"Rank in Ordered Dataset",{size:17.5,anchor:"middle"});
}
defs.append("marker").attr("id","arr").attr("viewBox","0 0 10 10").attr("refX",9).attr("refY",5)
  .attr("markerWidth",5).attr("markerHeight",5).attr("orient","auto")
  .append("path").attr("d","M0,0L10,5L0,10z").attr("fill","#000");
gseaPanel({id:"cg1",x0:1314,x1:1994,yDom:[-0.049,0.684],title:["Antigen Processing And Presentation Of","Peptide Antigen"],
  curve:gseaCurveA,hits:gseaHitsA,band:gseaBandA,genes:gseaGenesA,gRank:gseaGeneRankA,gEs:gseaGeneEsA,arrows:gseaArrowsA,stats:gseaStatsA,statX:1960});
gseaPanel({id:"cg2",x0:2069,x1:2749,yDom:[-0.062,0.723],title:["Positive Regulation Of T Cell Mediated","Cytotoxicity"],
  curve:gseaCurveB,hits:gseaHitsB,band:gseaBandB,genes:gseaGenesB,gRank:gseaGeneRankB,gEs:gseaGeneEsB,arrows:null,stats:gseaStatsB,statX:2715});

// ---------- Panel D ----------
(function(){
  const g=svg.append("g");
  const dx=d3.scaleLinear().domain([0,1600]).range([1240,2840]);
  const dy=d3.scaleLinear().domain([0,1150]).range([930,2080]);
  const r2=d3.scaleLinear().domain([1,25]).range([122.8,562]);
  const rD=s=>Math.sqrt(r2(s));
  const fcMin=d3.min(cnetFC), fcMax=d3.max(cnetFC);
  const fcCol=d3.scaleLinear().domain([fcMin,fcMax]).range(["#fff2ee","#ff0000"]).interpolate(d3.interpolateLab);
  Object.keys(cnetLinks).forEach(k=>{
    const c=cnetCatXY[k];
    cnetLinks[k].forEach(j=>{
      const p=cnetGeneXY[j];
      line(g,dx(c[0]),dy(c[1]),dx(p[0]),dy(p[1]),"#bdbdbd",2.6);
    });
  });
  cnetGenes.forEach((s,j)=>{
    g.append("circle").attr("cx",dx(cnetGeneXY[j][0])).attr("cy",dy(cnetGeneXY[j][1])).attr("r",rD(1)).attr("fill",fcCol(cnetFC[j]));
  });
  cnetCats.forEach((s,k)=>{
    g.append("circle").attr("cx",dx(cnetCatXY[k][0])).attr("cy",dy(cnetCatXY[k][1])).attr("r",rD(cnetCatSize[k])).attr("fill","#EAC48E");
  });
  cnetGenes.forEach((s,j)=>T(g,dx(cnetGeneLabelXY[j][0]),dy(cnetGeneLabelXY[j][1]),s,{size:34,anchor:"middle"}));
  cnetCats.forEach((s,k)=>T(g,dx(cnetCatLabelXY[k][0]),dy(cnetCatLabelXY[k][1]),s,{size:34.8,anchor:"middle"}));
  // legends
  T(g,2659,1211,"size",{size:26});
  const ly=[1257,1301,1348,1398,1453];
  cnetSizeLegend.forEach((s,i)=>{
    g.append("circle").attr("cx",2687).attr("cy",ly[i]).attr("r",rD(s)).attr("fill","#000");
    T(g,2731,ly[i],String(s),{size:22});
  });
  T(g,2659,1516,"fold change",{size:26});
  colorbar(g,2659,1540,1761,43,"gD",fcCol,[fcMin,fcMax],cnetFCLegend,v=>v.toFixed(2),2715,22,null);
})();

// ---------- Panel E ----------
(function(){
  const g=svg.append("g");
  const ex=d3.scaleLinear().domain([-1.65,1.65]).range([2939,3607]);
  const ey=d3.scaleLinear().domain([-0.66,11.41]).range([597,132]);
  [-1.5,-1,-0.5,0.5,1,1.5].forEach(v=>line(g,ex(v),132,ex(v),597,"#ececec",2.6));
  [2.5,7.5].forEach(v=>line(g,2939,ey(v),3607,ey(v),"#ececec",2.6));
  volYTicks.forEach(v=>line(g,2939,ey(v),3607,ey(v),"#ebebeb",5.5));
  [-volFC,volFC].forEach(v=>line(g,ex(v),132,ex(v),597,"#000",1.8,l=>l.attr("stroke-dasharray","8,6")));
  line(g,2939,ey(volP),3607,ey(volP),"#000",1.8,l=>l.attr("stroke-dasharray","8,6"));
  volGrayX.forEach((x,i)=>g.append("circle").attr("cx",ex(x)).attr("cy",ey(volGrayY[i])).attr("r",5.6).attr("fill","#4d4d4d").attr("fill-opacity",0.5));
  volGreenX.forEach((x,i)=>g.append("circle").attr("cx",ex(x)).attr("cy",ey(volGreenY[i])).attr("r",5.6).attr("fill","#228B22").attr("fill-opacity",0.5));
  volSigX.forEach((x,i)=>g.append("circle").attr("cx",ex(x)).attr("cy",ey(volSigY[i])).attr("r",5.6).attr("fill","#EE0000").attr("fill-opacity",0.5));
  volLabels.forEach((s,i)=>T(g,ex(volLabelX[i]),ey(volLabelY[i]),s,{size:19,anchor:"middle"}));
  line(g,2939,132,2939,598,"#000",2.5);
  line(g,2938,597,3607,597,"#000",2.5);
  volYTicks.forEach(v=>{line(g,2928,ey(v),2939,ey(v),"#000",2.2);T(g,2917,ey(v),String(v),{size:20,anchor:"end",fill:"#4d4d4d"});});
  volXTicks.forEach(v=>{line(g,ex(v),597,ex(v),608,"#000",2.2);T(g,ex(v),630,v<0?"\u2212"+Math.abs(v):String(v),{size:20,anchor:"middle",fill:"#4d4d4d"});});
  const xt=g.append("text").attr("x",3275).attr("y",668).attr("text-anchor","middle").attr("font-size",21).attr("font-family",SANS);
  xt.append("tspan").text("Log");
  xt.append("tspan").attr("font-size",14).attr("dy",5).text("2");
  xt.append("tspan").attr("dy",-5).text(" fold change");
  const yt=g.append("text").attr("transform","translate(2871,312) rotate(-90)").attr("text-anchor","middle").attr("font-size",21).attr("font-family",SANS);
  yt.append("tspan").text("\u2212Log");
  yt.append("tspan").attr("font-size",14).attr("dy",5).text("10");
  yt.append("tspan").attr("dy",-5).text(" ");
  yt.append("tspan").attr("font-style","italic").text("P");
  T(g,3607,707,"total = 1699 variables",{size:14,anchor:"end"});
})();

// ---------- Panel F ----------
(function(){
  const g=svg.append("g");
  const colX0=[3018,3343];
  const rowTitle=[774,1036,1298,1561,1823];
  const vcol=["#F8766D","#00BFC4"];
  vlnGenes.forEach((gene,i)=>{
    const c=i%2, r=Math.floor(i/2);
    const x0=colX0[c], t0=rowTitle[r];
    const top=t0+29, bot=t0+134;
    const M=d3.max(vlnConShape[i].concat(vlnChaShape[i]),d=>d[0]);
    const ys=d3.scaleLinear().domain([-0.05*M,1.05*M]).range([bot,top]);
    const xs=d3.scalePoint().domain(vlnGroups).range([x0,x0+244]).padding(0.6);
    const step=xs.step(), hw=0.45*step;
    const shapes=[vlnConShape[i],vlnChaShape[i]], pts=[vlnConPts[i],vlnChaPts[i]];
    vlnGroups.forEach((grp,k)=>{
      const cx=xs(grp);
      const area=d3.area().curve(d3.curveBasis).y(d=>ys(d[0])).x0(d=>cx-d[1]*hw).x1(d=>cx+d[1]*hw);
      g.append("path").attr("d",area(shapes[k])).attr("fill",vcol[k]).attr("stroke","#333").attr("stroke-width",1);
      pts[k].forEach((v,j)=>{
        const jx=jitterPattern[(j+k*37)%jitterPattern.length];
        g.append("circle").attr("cx",cx+jx*0.4*step).attr("cy",ys(v)).attr("r",1.5).attr("fill","#000");
      });
    });
    line(g,x0,top,x0,bot+1,"#000",2.2);
    line(g,x0-1,bot,x0+244,bot,"#000",2.2);
    vlnTicks[i].forEach(v=>{line(g,x0-7,ys(v),x0,ys(v),"#000",2);T(g,x0-10,ys(v),String(v),{size:19,anchor:"end"});});
    vlnGroups.forEach(grp=>{
      line(g,xs(grp),bot,xs(grp),bot+7,"#000",2);
      T(g,xs(grp)+4,bot+12,grp,{size:21,anchor:"end",base:"hanging",rot:-45});
    });
    const cxm=x0+122;
    T(g,cxm,t0,gene,{size:29,anchor:"middle",weight:"bold"});
    T(g,cxm,t0+212,"Identity",{size:24,anchor:"middle"});
    T(g,x0-46,t0+80,"Expression Level",{size:24,anchor:"middle",rot:-90});
  });
})();
</script>
</body></html>
